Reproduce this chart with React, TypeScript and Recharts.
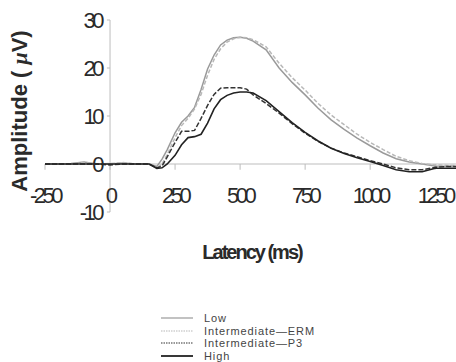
import React from 'react'
import { LineChart, Line, XAxis, YAxis, ReferenceLine, ReferenceDot } from 'recharts'

const latency = [-250, -200, -150, -100, -50, 0, 50, 100, 150, 180, 200, 220, 250, 275, 300, 325, 350, 375, 400, 425, 450, 475, 500, 525, 550, 600, 650, 700, 750, 800, 850, 900, 950, 1000, 1050, 1100, 1150, 1200, 1250, 1300, 1330]

const low = [0, 0, 0.1, 0.4, 0, 0, 0.2, 0, 0, -0.5, 1, 3, 6.5, 8.7, 10, 11.8, 15.5, 19.8, 22.7, 24.8, 25.8, 26.3, 26.4, 26.2, 25.6, 23.8, 20, 17, 14.4, 11.6, 9.2, 7.2, 5.4, 3.8, 2.3, 1.1, 0.4, 0, -0.4, -0.5, -0.5]
const intermediateErm = [0, 0, 0, 0.3, 0, 0.1, 0.3, 0, 0, -0.8, 0, 2, 5.5, 8, 9.5, 11.5, 14.5, 18.5, 21.8, 24, 25.4, 26.1, 26.4, 26.3, 25.9, 24.4, 21, 18, 15.4, 12.6, 10.2, 8.2, 6.2, 4.5, 3, 1.6, 0.7, 0.1, -0.2, -0.3, -0.3]
const intermediateP3 = [0, 0, 0, 0, 0, -0.2, 0, 0, 0, -0.8, -0.4, 1.5, 4.5, 6.8, 6.8, 7, 9.5, 12.2, 14.5, 15.8, 15.9, 15.9, 15.9, 15.6, 14.4, 12.6, 10.6, 8.4, 6.4, 4.7, 3.3, 2.3, 1.5, 0.7, 0, -0.8, -1.2, -1.2, -0.7, -0.5, -0.5]
const high = [0, 0, 0, 0, 0, 0, 0, 0, 0, -0.9, -0.8, 0, 1.8, 4, 5.5, 5.7, 6.2, 8.5, 11.5, 13.4, 14.3, 14.8, 15, 15, 14.8, 13.2, 10.9, 8.6, 6.6, 4.8, 3.3, 2.2, 1.3, 0.5, -0.3, -1.2, -1.6, -1.6, -0.9, -0.9, -0.9]

const xTicks = [-250, 0, 250, 500, 750, 1000, 1250]
const yTicks = [-10, 0, 10, 20, 30]

const series = [
  { key: 'low', name: 'Low', color: '#9a9a9a', dash: undefined, width: 1.5 },
  { key: 'erm', name: 'Intermediate\u2014ERM', color: '#b8b8b8', dash: '4 2', width: 1.5 },
  { key: 'p3', name: 'Intermediate\u2014P3', color: '#333333', dash: '5 2', width: 1.5 },
  { key: 'high', name: 'High', color: '#222222', dash: undefined, width: 1.6 },
]

const data = latency.map((t, i) => ({
  t,
  low: low[i],
  erm: intermediateErm[i],
  p3: intermediateP3[i],
  high: high[i],
}))

const tickFont: React.CSSProperties = {
  fontFamily: 'Arial, "Liberation Sans", sans-serif',
  fontSize: 22,
  letterSpacing: -3.5,
  fill: '#2a2a2a',
}

const XTick = (props: any) => {
  const { x, y, payload } = props
  return (
    <text x={x} y={y - 17} textAnchor="middle" dominantBaseline="central" style={tickFont}>
      {payload.value}
    </text>
  )
}

export default function App() {
  return (
    <div style={{ position: 'absolute', left: 0, top: 0, width: 456, height: 362, background: '#fff' }}>
      <LineChart width={456} height={362} data={data} margin={{ top: 20, right: 0, bottom: 120, left: 45 }}>
        <XAxis
          dataKey="t"
          type="number"
          domain={[-250, 1330]}
          ticks={xTicks}
          axisLine={false}
          tickLine={false}
          tickSize={0}
          tickMargin={0}
          height={30}
          tick={<XTick />}
          allowDataOverflow
        />
        <YAxis type="number" domain={[-10, 30]} ticks={yTicks} hide allowDataOverflow />
        <ReferenceLine y={0} stroke="#bdbdbd" strokeWidth={1} />
        <ReferenceLine x={0} stroke="#bdbdbd" strokeWidth={1} />
        {xTicks.map((t) => (
          <ReferenceLine key={'xt' + t} segment={[{ x: t, y: 0 }, { x: t, y: -1.2 }]} stroke="#bdbdbd" />
        ))}
        {yTicks.map((v) => (
          <ReferenceLine key={'yt' + v} segment={[{ x: -12, y: v }, { x: 0, y: v }]} stroke="#bdbdbd" />
        ))}
        {yTicks.map((v) => (
          <ReferenceDot
            key={'yl' + v}
            x={0}
            y={v}
            r={0}
            fill="none"
            stroke="none"
            label={{ value: String(v), position: 'left', offset: 9, style: tickFont }}
          />
        ))}
        {series.map((s) => (
          <Line
            key={s.key}
            dataKey={s.key}
            name={s.name}
            type="linear"
            stroke={s.color}
            strokeWidth={s.width}
            strokeDasharray={s.dash}
            dot={false}
            isAnimationActive={false}
          />
        ))}
      </LineChart>
      <div
        style={{
          position: 'absolute',
          left: 20,
          top: 111,
          transform: 'translate(-50%, -50%) rotate(-90deg)',
          whiteSpace: 'nowrap',
          fontFamily: 'Arial, "Liberation Sans", sans-serif',
          fontWeight: 'bold',
          fontSize: 22,
          color: '#2a2a2a',
        }}
      >
        Amplitude ( <i style={{ fontFamily: 'serif' }}>μ</i>V)
      </div>
      <div
        style={{
          position: 'absolute',
          left: 252,
          top: 252,
          transform: 'translate(-50%, -50%)',
          whiteSpace: 'nowrap',
          fontFamily: 'Arial, "Liberation Sans", sans-serif',
          fontWeight: 'bold',
          fontSize: 20,
          letterSpacing: -2,
          color: '#2a2a2a',
        }}
      >
        Latency (ms)
      </div>
      <div style={{ position: 'absolute', left: 160, top: 312 }}>
        {series.map((s) => (
          <div key={s.key} style={{ display: 'flex', alignItems: 'center', height: 12.5 }}>
            <svg width={34} height={6}>
              <line x1={1} y1={3} x2={33} y2={3} stroke={s.color} strokeWidth={s.key === 'high' ? 1.8 : 1.2} strokeDasharray={s.dash ? '1.5 1' : undefined} />
            </svg>
            <span
              style={{
                marginLeft: 10,
                fontFamily: 'Arial, "Liberation Sans", sans-serif',
                fontSize: 11,
                letterSpacing: 0.9,
                color: '#444',
                lineHeight: '12.5px',
                whiteSpace: 'nowrap',
              }}
            >
              {s.name}
            </span>
          </div>
        ))}
      </div>
    </div>
  )
}
